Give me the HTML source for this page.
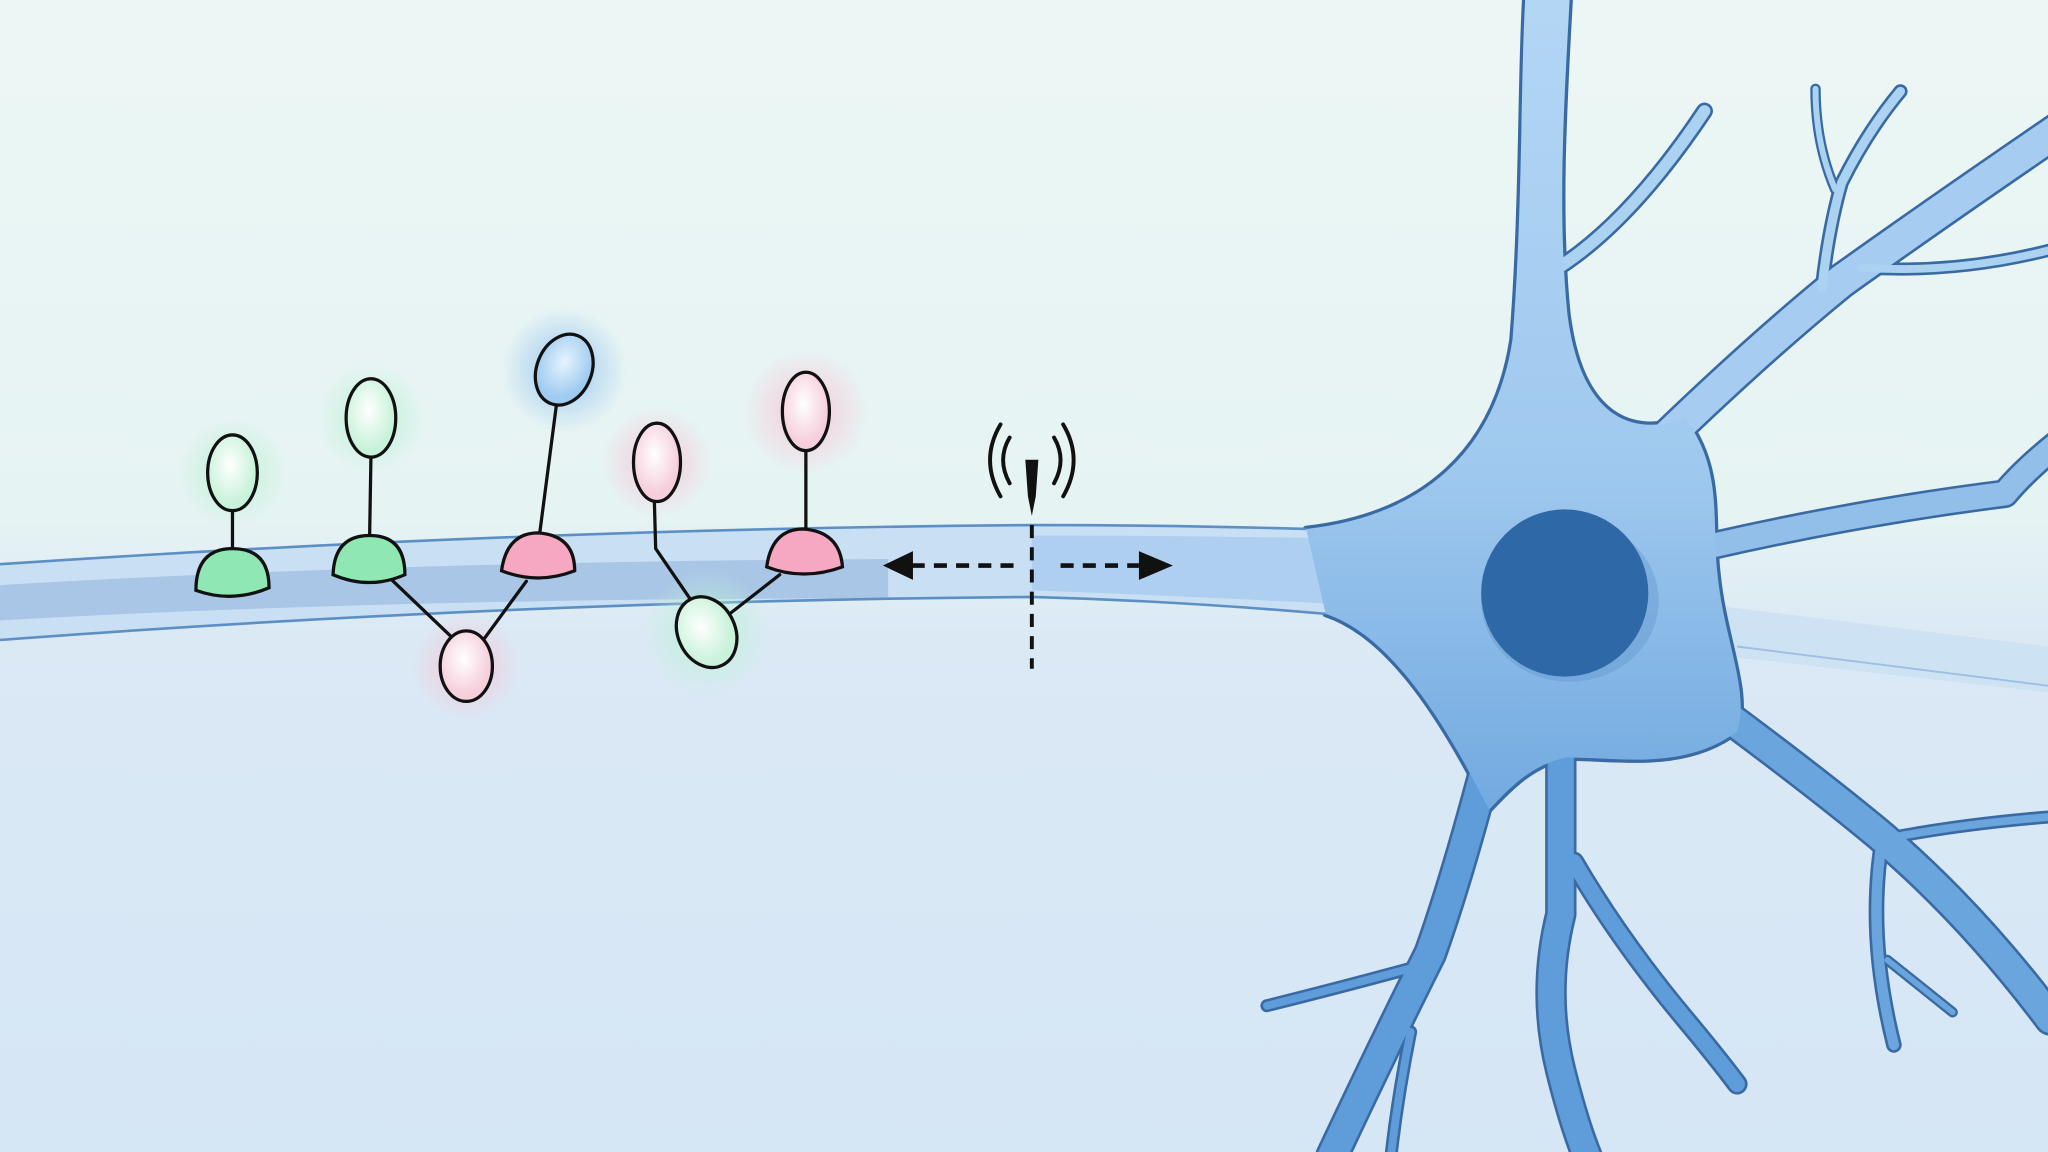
<!DOCTYPE html>
<html><head><meta charset="utf-8"><style>
html,body{margin:0;padding:0;width:2048px;height:1152px;overflow:hidden}
svg{display:block}
</style></head><body>
<svg width="2048" height="1152" viewBox="0 0 1568 882" xmlns="http://www.w3.org/2000/svg">
<defs>
<linearGradient id="bg" x1="0" y1="0" x2="0" y2="1">
<stop offset="0" stop-color="#ecf7f5"/><stop offset="0.45" stop-color="#e6f3f3"/><stop offset="0.55" stop-color="#dbe9f5"/><stop offset="1" stop-color="#d5e6f5"/>
</linearGradient>
<linearGradient id="body" x1="0" y1="0" x2="0" y2="882" gradientUnits="userSpaceOnUse">
<stop offset="0" stop-color="#b3d6f4"/><stop offset="0.4" stop-color="#a0c9ef"/><stop offset="0.7" stop-color="#72aae0"/><stop offset="1" stop-color="#5f9cda"/>
</linearGradient>
<radialGradient id="gG"><stop offset="0" stop-color="#b8f2d2" stop-opacity="0.9"/><stop offset="1" stop-color="#b8f2d2" stop-opacity="0"/></radialGradient>
<radialGradient id="gP"><stop offset="0" stop-color="#f8c4d6" stop-opacity="0.9"/><stop offset="1" stop-color="#f8c4d6" stop-opacity="0"/></radialGradient>
<radialGradient id="gB"><stop offset="0" stop-color="#8fc2f0" stop-opacity="0.9"/><stop offset="1" stop-color="#8fc2f0" stop-opacity="0"/></radialGradient>
<radialGradient id="fG" cx="0.45" cy="0.4"><stop offset="0" stop-color="#ffffff"/><stop offset="1" stop-color="#c9f2da"/></radialGradient>
<radialGradient id="fP" cx="0.45" cy="0.4"><stop offset="0" stop-color="#ffffff"/><stop offset="1" stop-color="#f6cfdc"/></radialGradient>
<radialGradient id="fB" cx="0.45" cy="0.4"><stop offset="0" stop-color="#e6f4ff"/><stop offset="1" stop-color="#9fcbf0"/></radialGradient>
<path id="bodyp" d="M1000 405 C1090 395 1145 345 1158 260 C1166 160 1164 60 1168 -5 L1202 -5 C1198 70 1192 160 1200 240 C1210 320 1250 335 1290 320 C1320 360 1310 400 1315 440 C1320 490 1340 530 1330 560 C1290 590 1240 580 1200 580 C1170 585 1150 610 1140 620 C1100 540 1060 485 1015 470 Z"/>
</defs>
<rect width="1568" height="882" fill="url(#bg)"/>
<path d="M1300 462 L1568 495 L1568 530 L1300 500 Z" fill="#c8def2" opacity="0.7"/>
<path d="M1330 495 L1568 525" stroke="#9dbfe2" stroke-width="1.5" fill="none"/>
<use href="#bodyp" fill="#3a6aa3" stroke="#3a6aa3" stroke-width="5" stroke-linejoin="round"/>
<path d="M0 432 Q400 405 790 402 Q900 402 1012 406 L1022 470 Q900 460 790 457 Q400 460 0 490 Z" fill="#c9dff3"/>
<path d="M0 448 Q300 430 680 428 L680 458 Q300 458 0 475 Z" fill="#a3bfe3" opacity="0.8"/>
<path d="M790 410 Q900 410 1010 412 L1015 462 Q900 456 790 452 Z" fill="#a8cbef" opacity="0.8"/>
<path d="M0 432 Q400 405 790 402 Q900 402 1000 405" stroke="#5d8fc4" stroke-width="2" fill="none"/>
<path d="M0 490 Q400 460 790 457 Q900 460 1015 470" stroke="#5d8fc4" stroke-width="2" fill="none"/>
<g stroke="#3a6aa3" fill="none" stroke-linecap="round" stroke-linejoin="round">
<path d="M1185 210 Q1245 175 1305 85" stroke-width="13"/>
<path d="M1230 380 Q1330 280 1410 215 Q1480 165 1575 100" stroke-width="28"/>
<path d="M1395 220 Q1400 175 1410 140 Q1430 100 1455 70" stroke-width="11"/>
<path d="M1405 145 Q1390 110 1390 68" stroke-width="8"/>
<path d="M1425 205 Q1500 210 1575 190" stroke-width="10"/>
<path d="M1260 430 Q1400 395 1535 378 Q1550 360 1575 340" stroke-width="22"/>
<path d="M1270 510 Q1380 590 1440 640 Q1510 700 1570 780" stroke-width="26"/>
<path d="M1440 650 Q1430 720 1450 800" stroke-width="12"/>
<path d="M1445 735 Q1470 755 1495 775" stroke-width="8"/>
<path d="M1455 640 Q1510 630 1575 625" stroke-width="10"/>
<path d="M1195 540 Q1195 650 1195 700 Q1180 760 1195 820 Q1205 860 1215 885" stroke-width="24"/>
<path d="M1205 660 Q1240 720 1290 780 Q1315 810 1330 830" stroke-width="16"/>
<path d="M1150 540 Q1120 660 1095 730 Q1060 800 1020 885" stroke-width="26"/>
<path d="M1085 740 Q1030 755 970 770" stroke-width="10"/>
<path d="M1080 790 Q1070 840 1065 885" stroke-width="10"/>
</g>
<g fill="none" stroke-linecap="round" stroke-linejoin="round">
<path d="M1185 210 Q1245 175 1305 85" stroke="#acd2f2" stroke-width="9"/>
<path d="M1230 380 Q1330 280 1410 215 Q1480 165 1575 100" stroke="#a6cdf1" stroke-width="24"/>
<path d="M1395 220 Q1400 175 1410 140 Q1430 100 1455 70" stroke="#acd2f2" stroke-width="7"/>
<path d="M1405 145 Q1390 110 1390 68" stroke="#acd2f2" stroke-width="4.5"/>
<path d="M1425 205 Q1500 210 1575 190" stroke="#acd2f2" stroke-width="6"/>
<path d="M1260 430 Q1400 395 1535 378 Q1550 360 1575 340" stroke="#92bfea" stroke-width="18"/>
<path d="M1270 510 Q1380 590 1440 640 Q1510 700 1570 780" stroke="#6aa5de" stroke-width="22"/>
<path d="M1440 650 Q1430 720 1450 800" stroke="#6aa5de" stroke-width="8"/>
<path d="M1445 735 Q1470 755 1495 775" stroke="#6aa5de" stroke-width="4.5"/>
<path d="M1455 640 Q1510 630 1575 625" stroke="#6aa5de" stroke-width="6"/>
<path d="M1195 540 Q1195 650 1195 700 Q1180 760 1195 820 Q1205 860 1215 885" stroke="#5f9cda" stroke-width="20"/>
<path d="M1205 660 Q1240 720 1290 780 Q1315 810 1330 830" stroke="#5f9cda" stroke-width="12"/>
<path d="M1150 540 Q1120 660 1095 730 Q1060 800 1020 885" stroke="#5f9cda" stroke-width="22"/>
<path d="M1085 740 Q1030 755 970 770" stroke="#5f9cda" stroke-width="6"/>
<path d="M1080 790 Q1070 840 1065 885" stroke="#5f9cda" stroke-width="6"/>
</g>
<use href="#bodyp" fill="url(#body)"/>
<ellipse cx="1202" cy="460" rx="68" ry="62" fill="#5d8fc8" opacity="0.35"/>
<circle cx="1198" cy="454" r="64" fill="#2f68a6"/>
<circle cx="178" cy="362" r="42" fill="url(#gG)"/>
<circle cx="284" cy="320" r="42" fill="url(#gG)"/>
<circle cx="432" cy="283" r="48" fill="url(#gB)"/>
<circle cx="503" cy="354" r="42" fill="url(#gP)"/>
<circle cx="617" cy="315" r="48" fill="url(#gP)"/>
<circle cx="357" cy="510" r="42" fill="url(#gP)"/>
<circle cx="541" cy="484" r="48" fill="url(#gG)"/>
<g stroke="#111" stroke-width="2.5" stroke-linecap="round">
<line x1="178" y1="391" x2="178" y2="420"/>
<line x1="284" y1="350" x2="283" y2="410"/>
<line x1="426" y1="310" x2="413" y2="410"/>
<line x1="617" y1="345" x2="617" y2="405"/>
<path d="M501 384 L502 420 L528 458" fill="none"/>
<line x1="556" y1="472" x2="597" y2="440"/>
<line x1="300" y1="444" x2="345" y2="487"/>
<line x1="370" y1="490" x2="403" y2="445"/>
<path d="M150 452 Q150 420 178 420 Q206 420 206 450 Q178 462 150 452 Z" fill="#8fe8b3"/>
<path d="M255 440 Q256 410 283 410 Q310 410 310 440 Q283 452 255 440 Z" fill="#8fe8b3"/>
<path d="M384 437 Q388 408 412 408 Q440 410 440 437 Q412 448 384 437 Z" fill="#f6a8c3"/>
<path d="M587 434 Q591 405 615 405 Q643 407 645 434 Q615 445 587 434 Z" fill="#f6a8c3"/>
<ellipse cx="178" cy="362" rx="19" ry="29" fill="url(#fG)"/>
<ellipse cx="284" cy="320" rx="19" ry="30" fill="url(#fG)"/>
<ellipse cx="432" cy="283" rx="21" ry="28" transform="rotate(22 432 283)" fill="url(#fB)"/>
<ellipse cx="503" cy="354" rx="18" ry="30" fill="url(#fP)"/>
<ellipse cx="617" cy="315" rx="18" ry="30" fill="url(#fP)"/>
<ellipse cx="357" cy="510" rx="20" ry="27" fill="url(#fP)"/>
<ellipse cx="541" cy="484" rx="22" ry="28" transform="rotate(-25 541 484)" fill="url(#fG)"/>
</g>
<g stroke="#111" fill="none" stroke-width="3" stroke-linecap="round">
<path d="M773 335 Q763 352 773 370"/>
<path d="M807 335 Q817 352 807 370"/>
<path d="M766 325 Q750 352 766 380"/>
<path d="M814 325 Q830 352 814 380"/>
</g>
<path d="M785 352 L795 352 L793 380 L790 395 L787 380 Z" fill="#111"/>
<line x1="790" y1="402" x2="790" y2="512" stroke="#111" stroke-width="3" stroke-dasharray="10 7"/>
<line x1="698" y1="433" x2="780" y2="433" stroke="#111" stroke-width="3.5" stroke-dasharray="10 7"/>
<line x1="812" y1="433" x2="872" y2="433" stroke="#111" stroke-width="3.5" stroke-dasharray="10 7"/>
<path d="M676 433 L699 422 L699 444 Z" fill="#111"/>
<path d="M898 433 L872 422 L872 444 Z" fill="#111"/>
</svg>
</body></html>
